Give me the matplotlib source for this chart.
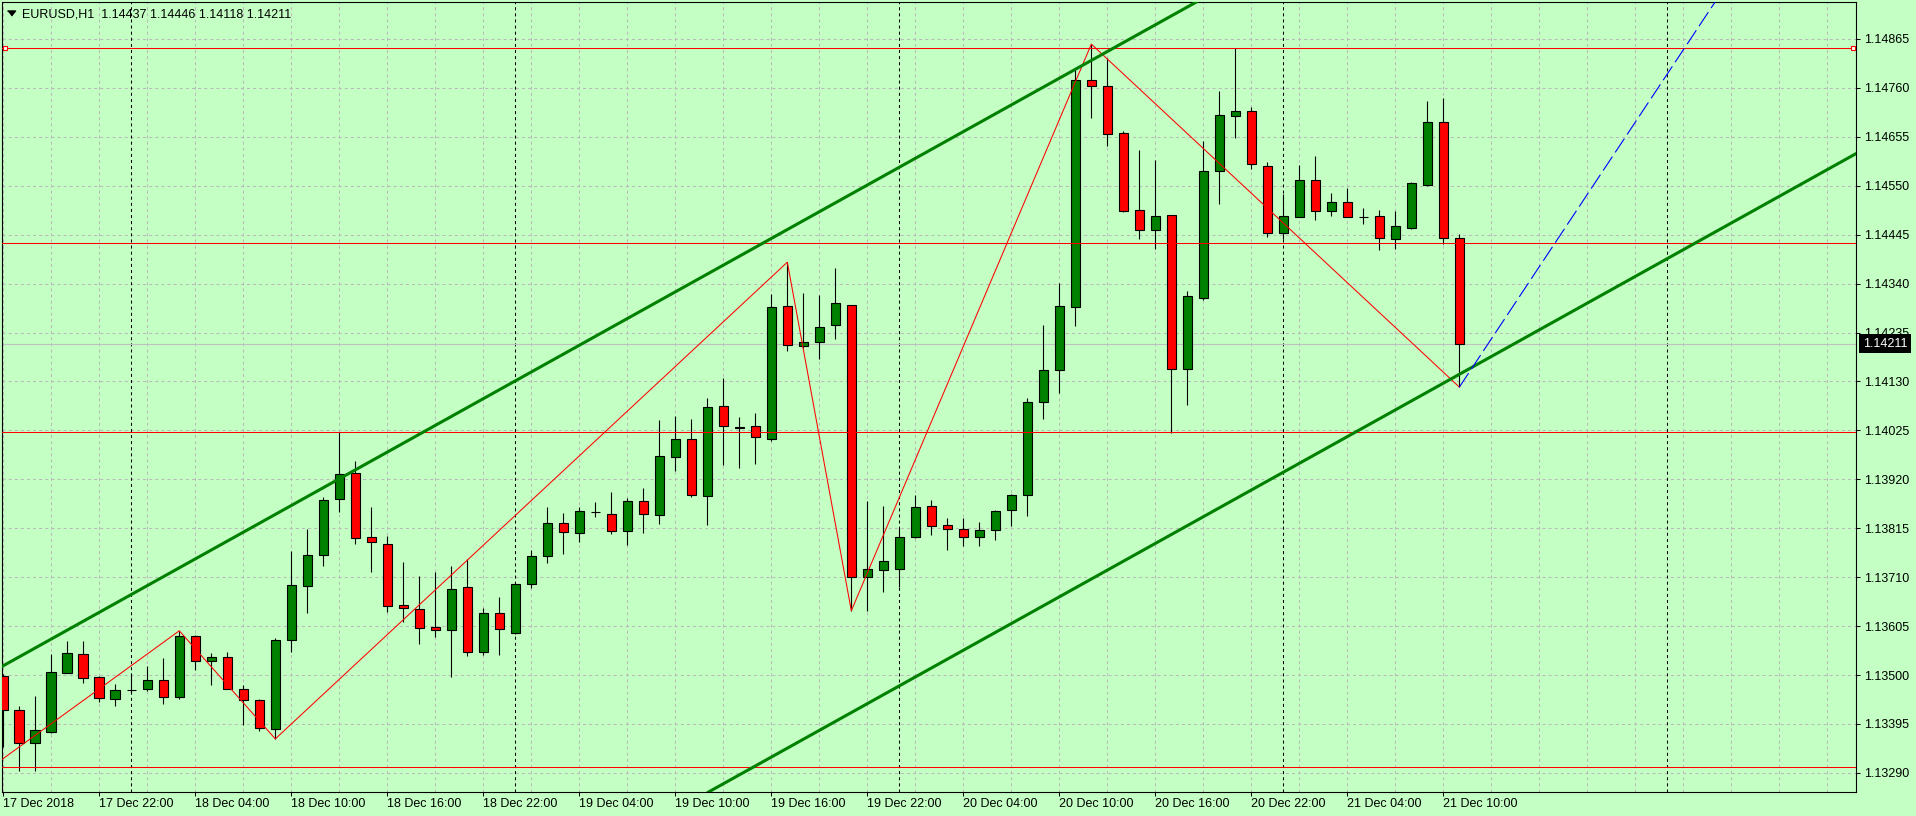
import matplotlib
matplotlib.use("Agg")
import matplotlib.pyplot as plt
import matplotlib.transforms as mtransforms
from matplotlib.lines import Line2D
import numpy as np

plt.rcParams['font.family'] = ['Liberation Sans', 'DejaVu Sans']
plt.rcParams['lines.scale_dashes'] = False

# chart header
symbol_text = "EURUSD,H1  1.14437 1.14446 1.14118 1.14211"

# hourly candles, 17 Dec 2018 16:00 .. 21 Dec 2018 11:00
opens = [1.13498, 1.13425, 1.13354, 1.13378, 1.13505, 1.13545, 1.13496, 1.13449, 1.13468, 1.13470,
         1.13489, 1.13453, 1.13584, 1.13530, 1.13539, 1.13470, 1.13447, 1.13384, 1.13575, 1.13691,
         1.13758, 1.13878, 1.13934, 1.13796, 1.13781, 1.13650, 1.13642, 1.13603, 1.13597, 1.13689,
         1.13550, 1.13633, 1.13590, 1.13695, 1.13756, 1.13826, 1.13805, 1.13849, 1.13846, 1.13809,
         1.13874, 1.13844, 1.13968, 1.14007, 1.13884, 1.14077, 1.14032, 1.14035, 1.14007, 1.14292,
         1.14206, 1.14215, 1.14251, 1.14294, 1.13711, 1.13726, 1.13728, 1.13796, 1.13863, 1.13822,
         1.13814, 1.13796, 1.13811, 1.13854, 1.13886, 1.14086, 1.14155, 1.14290, 1.14777, 1.14764,
         1.14663, 1.14498, 1.14455, 1.14487, 1.14157, 1.14309, 1.14582, 1.14700, 1.14711, 1.14592,
         1.14449, 1.14483, 1.14562, 1.14496, 1.14515, 1.14483, 1.14485, 1.14436, 1.14459, 1.14552,
         1.14687, 1.14437]
highs = [1.13502, 1.13434, 1.13455, 1.13545, 1.13573, 1.13573, 1.13497, 1.13481, 1.13502, 1.13520,
         1.13537, 1.13595, 1.13586, 1.13547, 1.13550, 1.13479, 1.13448, 1.13580, 1.13766, 1.13814,
         1.13882, 1.14022, 1.13959, 1.13861, 1.13798, 1.13743, 1.13713, 1.13721, 1.13734, 1.13749,
         1.13644, 1.13668, 1.13697, 1.13768, 1.13861, 1.13848, 1.13861, 1.13871, 1.13893, 1.13880,
         1.13901, 1.14047, 1.14056, 1.14050, 1.14095, 1.14138, 1.14054, 1.14062, 1.14318, 1.14386,
         1.14320, 1.14316, 1.14374, 1.14295, 1.13874, 1.13863, 1.13816, 1.13886, 1.13876, 1.13837,
         1.13837, 1.13829, 1.13854, 1.13889, 1.14095, 1.14251, 1.14341, 1.14803, 1.14854, 1.14824,
         1.14668, 1.14627, 1.14605, 1.14488, 1.14324, 1.14646, 1.14753, 1.14846, 1.14719, 1.14601,
         1.14532, 1.14595, 1.14614, 1.14535, 1.14545, 1.14502, 1.14498, 1.14496, 1.14558, 1.14732,
         1.14738, 1.14446]
lows = [1.13346, 1.13294, 1.13294, 1.13376, 1.13504, 1.13483, 1.13442, 1.13434, 1.13462, 1.13466,
        1.13438, 1.13449, 1.13511, 1.13479, 1.13469, 1.13393, 1.13380, 1.13363, 1.13550, 1.13633,
        1.13734, 1.13850, 1.13781, 1.13721, 1.13635, 1.13614, 1.13567, 1.13582, 1.13496, 1.13541,
        1.13543, 1.13543, 1.13588, 1.13687, 1.13741, 1.13760, 1.13786, 1.13839, 1.13803, 1.13779,
        1.13805, 1.13825, 1.13938, 1.13882, 1.13822, 1.13951, 1.13944, 1.13953, 1.14002, 1.14195,
        1.14202, 1.14178, 1.14221, 1.13638, 1.13638, 1.13678, 1.13689, 1.13794, 1.13801, 1.13768,
        1.13777, 1.13777, 1.13790, 1.13820, 1.13841, 1.14050, 1.14105, 1.14249, 1.14696, 1.14635,
        1.14494, 1.14436, 1.14414, 1.14020, 1.14080, 1.14305, 1.14511, 1.14653, 1.14586, 1.14440,
        1.14436, 1.14482, 1.14477, 1.14485, 1.14482, 1.14468, 1.14412, 1.14414, 1.14458, 1.14550,
        1.14425, 1.14118]
closes = [1.13425, 1.13354, 1.13382, 1.13507, 1.13547, 1.13494, 1.13451, 1.13468, 1.13467, 1.13489,
          1.13453, 1.13584, 1.13530, 1.13539, 1.13470, 1.13447, 1.13386, 1.13575, 1.13693, 1.13758,
          1.13876, 1.13932, 1.13794, 1.13786, 1.13648, 1.13644, 1.13601, 1.13597, 1.13685, 1.13550,
          1.13633, 1.13599, 1.13695, 1.13756, 1.13826, 1.13807, 1.13852, 1.13850, 1.13809, 1.13874,
          1.13846, 1.13970, 1.14007, 1.13886, 1.14075, 1.14035, 1.14031, 1.14011, 1.14290, 1.14208,
          1.14215, 1.14247, 1.14299, 1.13711, 1.13728, 1.13745, 1.13796, 1.13861, 1.13820, 1.13814,
          1.13796, 1.13811, 1.13852, 1.13886, 1.14086, 1.14155, 1.14292, 1.14777, 1.14764, 1.14661,
          1.14496, 1.14455, 1.14485, 1.14157, 1.14314, 1.14582, 1.14702, 1.14711, 1.14597, 1.14449,
          1.14485, 1.14562, 1.14496, 1.14515, 1.14483, 1.14482, 1.14438, 1.14464, 1.14556, 1.14687,
          1.14437, 1.14211]

# time axis labels, one every 6 bars
time_labels = ["17 Dec 2018", "17 Dec 22:00", "18 Dec 04:00", "18 Dec 10:00", "18 Dec 16:00",
               "18 Dec 22:00", "19 Dec 04:00", "19 Dec 10:00", "19 Dec 16:00", "19 Dec 22:00",
               "20 Dec 04:00", "20 Dec 10:00", "20 Dec 16:00", "20 Dec 22:00", "21 Dec 04:00",
               "21 Dec 10:00"]
label_step = 6
grid_step = 3
bars_visible = 116

# day separators (midnight bars)
day_breaks = [8, 32, 56, 80, 104]

# zigzag vertices (bar index, price)
zigzag_bars = [-1, 11, 17, 49, 53, 68, 91]
zigzag_prices = [1.13296, 1.13595, 1.13363, 1.14386, 1.13638, 1.14854, 1.14118]

# channel and projection line anchors (bar index, price)
channel_upper = [(0, 1.13520), (116, 1.15736)]
channel_lower = [(0, 1.12407), (116, 1.14623)]
projection_bars = [91, 108]
projection_prices = [1.14118, 1.14997]

# horizontal levels
red_levels = [1.14845, 1.14427, 1.14022, 1.13302]
selected_level = 1.14845
bid_price = 1.14211

# price axis
ytick_values = [1.13290, 1.13395, 1.13500, 1.13605, 1.13710, 1.13815, 1.13920, 1.14025,
                1.14130, 1.14235, 1.14340, 1.14445, 1.14550, 1.14655, 1.14760, 1.14865]

BG = "#C4FFC4"
BULL = "#008000"
BEAR = "#FF0000"
GRID = "#BABABA"

W, H = 1916, 816
fig = plt.figure(figsize=(W / 100, H / 100), dpi=100, facecolor=BG)
ax = fig.add_axes([2 / W, 24 / H, 1854 / W, 790 / H])
ax.set_facecolor(BG)

o = np.array(opens)
h = np.array(highs)
l = np.array(lows)
c = np.array(closes)
x = np.arange(len(o))
colors = [BULL if cc >= oo else BEAR for oo, cc in zip(o, c)]

# candles
ax.vlines(x, l, h, color='black', lw=0.8, zorder=3)
ax.bar(x, np.abs(c - o), bottom=np.minimum(o, c), width=0.6, color=colors,
       edgecolor='black', linewidth=0.8, zorder=4)

# day separators and bid line
for b in day_breaks:
    ax.axvline(b, color='black', lw=0.75, ls=(0, (2.2, 2.2)), zorder=2)
ax.axhline(bid_price, color='#C0C0C0', lw=0.8, zorder=2.5)

# objects
for lvl in red_levels:
    ax.axhline(lvl, color='red', lw=0.75, zorder=5)
ax.plot(zigzag_bars, zigzag_prices, color='red', lw=0.75, zorder=6)
ax.axline(channel_upper[0], channel_upper[1], color=BULL, lw=2.2, zorder=6)
ax.axline(channel_lower[0], channel_lower[1], color=BULL, lw=2.2, zorder=6)
ax.plot(projection_bars, projection_prices, color='blue', lw=0.8,
        ls=(0, (12, 3.6)), zorder=6)

# selection handles of the top level line
blend = mtransforms.blended_transform_factory(ax.transAxes, ax.transData)
ax.plot([0.0018, 0.9984], [selected_level, selected_level], transform=blend,
        ls='none', marker='s', ms=3, mfc='white', mec='red', mew=0.8,
        clip_on=False, zorder=7)

ax.set_xlim(-0.081, 115.79)
ax.set_ylim(1.13249, 1.149444)

# axes / ticks
ax.yaxis.tick_right()
ax.set_yticks(ytick_values)
ax.set_yticklabels([f"{v:.5f}" for v in ytick_values])
ax.tick_params(axis='y', which='major', direction='out', length=3, width=0.75,
               pad=2.5, labelsize=9, colors='black')

ax.set_xticks(list(range(0, label_step * len(time_labels), label_step)))
ax.set_xticklabels(time_labels)
ax.set_xticks(list(range(0, bars_visible, grid_step)), minor=True)
ax.tick_params(axis='x', which='major', direction='out', length=3, width=0.75,
               pad=1.5, labelsize=9)
ax.tick_params(axis='x', which='minor', length=0)
for lab in ax.get_xticklabels():
    lab.set_horizontalalignment('left')

ax.set_axisbelow(True)
ax.grid(True, which='both', axis='x', color=GRID, lw=0.75, ls=(0, (2.2, 2.2)))
ax.grid(True, which='major', axis='y', color=GRID, lw=0.75, ls=(0, (2.2, 2.2)))

for sp in ax.spines.values():
    sp.set_color('black')
    sp.set_linewidth(0.8)

# header
fig.add_artist(Line2D([10.8 / W], [1 - 12.5 / H], marker=[(-4, 2.5), (4, 2.5), (0, -2.5)],
                      ms=5.8, color='black', ls='none', transform=fig.transFigure))
fig.text(21.7 / W, 1 - 17.3 / H, symbol_text, ha='left', va='baseline', fontsize=9,
         color='black')

# bid price label
ax.annotate(f"{bid_price:.5f}", xy=(1, bid_price), xycoords=('axes fraction', 'data'),
            xytext=(7, 0), textcoords='offset pixels', ha='left', va='center',
            color='white', fontsize=9, annotation_clip=False, zorder=10,
            bbox=dict(boxstyle='square,pad=0.3', fc='black', ec='none'))

fig.savefig('out.png', dpi=100, facecolor=BG)
